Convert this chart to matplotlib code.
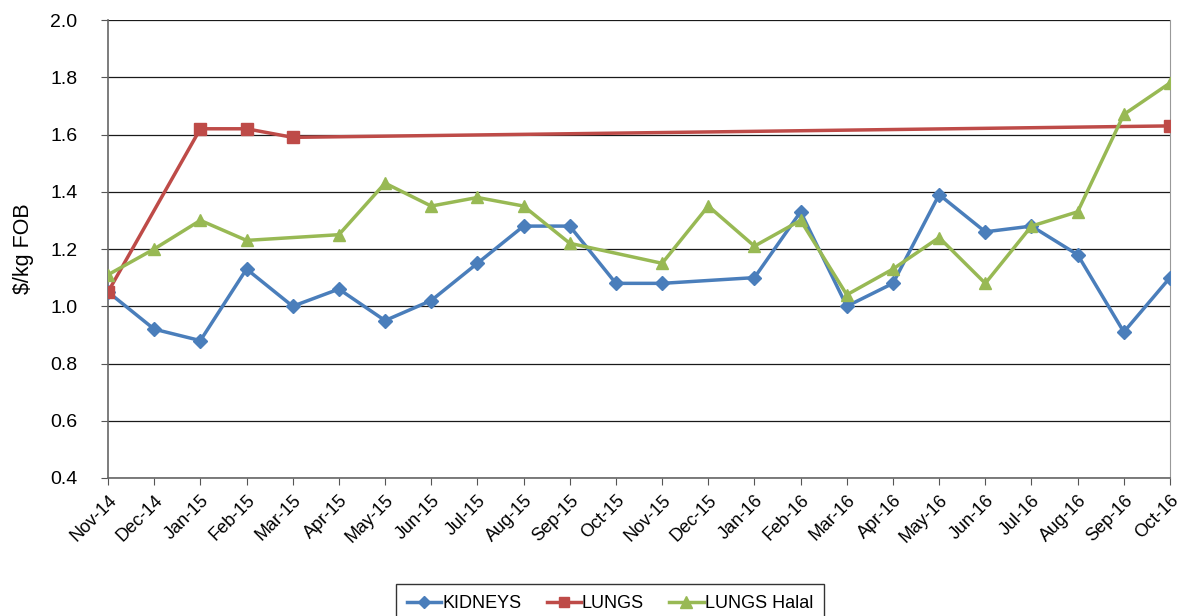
import numpy as np
import matplotlib
matplotlib.use("Agg")
import matplotlib.pyplot as plt
from matplotlib import font_manager

months = ["Nov-14", "Dec-14", "Jan-15", "Feb-15", "Mar-15", "Apr-15", "May-15", "Jun-15",
          "Jul-15", "Aug-15", "Sep-15", "Oct-15", "Nov-15", "Dec-15", "Jan-16", "Feb-16",
          "Mar-16", "Apr-16", "May-16", "Jun-16", "Jul-16", "Aug-16", "Sep-16", "Oct-16"]
nan = np.nan
kidneys = [1.05, 0.92, 0.88, 1.13, 1.00, 1.06, 0.95, 1.02, 1.15, 1.28, 1.28, 1.08,
           1.08, nan, 1.10, 1.33, 1.00, 1.08, 1.39, 1.26, 1.28, 1.18, 0.91, 1.10]
lungs = [1.05, nan, 1.62, 1.62, 1.59, nan, nan, nan, nan, nan, nan, nan,
         nan, nan, nan, nan, nan, nan, nan, nan, nan, nan, nan, 1.63]
lungs_halal = [1.11, 1.20, 1.30, 1.23, nan, 1.25, 1.43, 1.35, 1.38, 1.35, 1.22, nan,
               1.15, 1.35, 1.21, 1.30, 1.04, 1.13, 1.24, 1.08, 1.28, 1.33, 1.67, 1.78]

names = {f.name for f in font_manager.fontManager.ttflist}
fam = "Liberation Sans Narrow" if "Liberation Sans Narrow" in names else "Liberation Sans"
plt.rcParams['font.family'] = [fam, 'DejaVu Sans']

fig = plt.figure(figsize=(11.81, 6.16), dpi=100)
ax = fig.add_axes([108/1181, 1 - 478/616, (1170-108)/1181, (478-20)/616])

x = np.arange(len(months))
series = [
    ("KIDNEYS", kidneys, "#4a7ebb", "D", 7),
    ("LUNGS", lungs, "#be4b48", "s", 8),
    ("LUNGS Halal", lungs_halal, "#98b954", "^", 9),
]
for name, vals, col, mk, ms in series:
    v = np.array(vals, dtype=float)
    m = ~np.isnan(v)
    ax.plot(x[m], v[m], color=col, lw=2.5, marker=mk, ms=ms, label=name,
            markeredgecolor=col, zorder=3)

ax.set_xlim(0, len(months) - 1)
ax.set_ylim(0.4, 2.0)
yt = np.arange(0.4, 2.01, 0.2)
ax.set_yticks(yt)
ax.set_yticklabels([f"{t:.1f}" for t in yt], fontsize=14)
ax.set_xticks(x)
ax.set_xticklabels(months, rotation=45, ha="right", rotation_mode="anchor", fontsize=13)
ax.tick_params(axis="x", direction="out", length=5, color="#555555", pad=5)
ax.tick_params(axis="y", direction="out", length=5, color="#555555", pad=17)
ax.grid(axis="y", color="#1a1a1a", lw=0.9, zorder=0)
ax.set_axisbelow(True)
for s in ["left", "bottom"]:
    ax.spines[s].set_color("#666666")
    ax.spines[s].set_linewidth(1.2)
ax.spines["right"].set_color("#999999")
ax.spines["top"].set_visible(False)
ax.set_ylabel("$/kg FOB", fontsize=15.5)
ax.yaxis.set_label_coords(-74/1062, 0.5)

leg = ax.legend(loc="upper center", bbox_to_anchor=(610/1181, 1 - 584/616),
                bbox_transform=fig.transFigure, ncol=3, frameon=True, fontsize=13,
                fancybox=False, edgecolor="#000000", handlelength=1.9, handletextpad=0.05,
                columnspacing=1.4, borderpad=0.6, borderaxespad=0, markerscale=0.9)
leg.get_frame().set_linewidth(1.0)

fig.savefig("out.png", dpi=100)
